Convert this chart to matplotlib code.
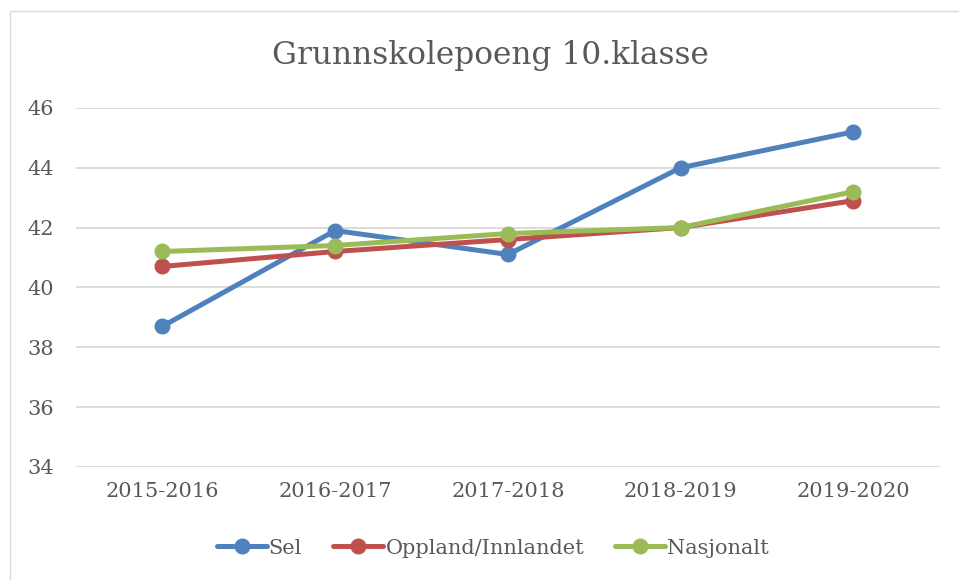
import matplotlib
matplotlib.use("Agg")
import matplotlib.pyplot as plt
from matplotlib.patches import Rectangle

years = ["2015-2016", "2016-2017", "2017-2018", "2018-2019", "2019-2020"]
sel = [38.7, 41.9, 41.1, 44.0, 45.2]
oppland = [40.7, 41.2, 41.6, 42.0, 42.9]
nasjonalt = [41.2, 41.4, 41.8, 42.0, 43.2]

series = [
    ("Sel", sel, "#4F81BD"),
    ("Oppland/Innlandet", oppland, "#C0504D"),
    ("Nasjonalt", nasjonalt, "#9BBB59"),
]

text_color = "#595959"
plt.rcParams["font.family"] = ["DejaVu Serif"]


def main() -> None:
    fig = plt.figure(figsize=(9.59, 5.8), dpi=100)
    ax = fig.add_axes([0.0793, 0.195, 0.9007, 0.619])

    x = list(range(len(years)))
    for name, values, color in series:
        ax.plot(x, values, color=color, linewidth=3.6, marker="o",
                markersize=10.5, label=name, solid_capstyle="round")

    ax.set_xlim(-0.5, len(years) - 0.5)
    ax.set_ylim(34, 46)
    ax.set_yticks(range(34, 47, 2))
    ax.set_xticks(x)
    ax.set_xticklabels(years)
    ax.grid(axis="y", color="#D9D9D9", linewidth=1.3)
    ax.set_axisbelow(True)
    for side in ax.spines.values():
        side.set_visible(False)
    ax.tick_params(length=0, labelsize=15, colors=text_color)
    ax.tick_params(axis="x", pad=11)
    ax.tick_params(axis="y", pad=16)

    fig.text(0.511, 0.905, "Grunnskolepoeng 10.klasse", ha="center",
             va="center", fontsize=22.5, color=text_color)

    leg = fig.legend(loc="center", bbox_to_anchor=(0.514, 0.055), ncol=3,
                     frameon=False, fontsize=15, handlelength=2.4,
                     columnspacing=1.5, handletextpad=0.1)
    for t in leg.get_texts():
        t.set_color(text_color)

    fig.patches.append(Rectangle((0.0105, -0.01), 1.0, 0.991,
                                 transform=fig.transFigure, fill=False,
                                 edgecolor="#D9D9D9", linewidth=1.0))
    fig.savefig("out.png", dpi=100)


if __name__ == "__main__":
    main()
